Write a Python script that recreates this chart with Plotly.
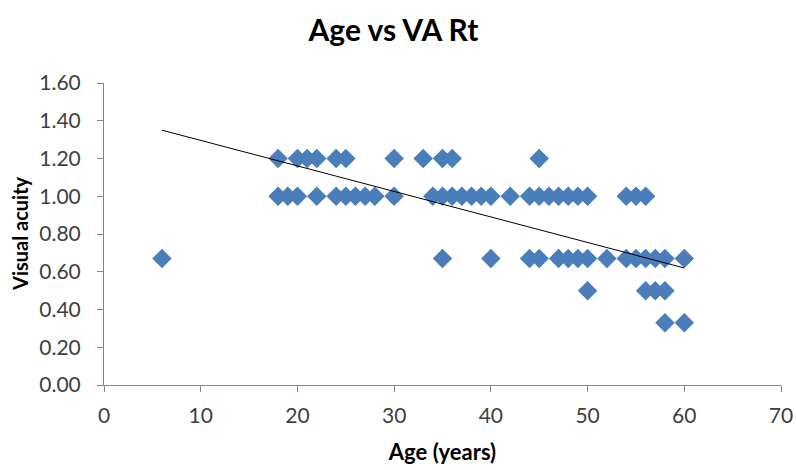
import plotly.graph_objects as go

# Age (years) and visual acuity (right eye), grouped by acuity level
age_va120 = [18, 20, 21, 22, 24, 25, 30, 33, 35, 36, 45]
age_va100 = [18, 19, 20, 22, 24, 25, 26, 27, 28, 30, 34, 35, 36, 37, 38, 39, 40,
             42, 44, 45, 46, 47, 48, 49, 50, 54, 55, 56]
age_va067 = [6, 35, 40, 44, 45, 47, 48, 49, 50, 52, 54, 55, 56, 57, 58, 60]
age_va050 = [50, 56, 57, 58]
age_va033 = [58, 60]

ages = age_va120 + age_va100 + age_va067 + age_va050 + age_va033
va = ([1.20] * len(age_va120) + [1.00] * len(age_va100) + [0.67] * len(age_va067)
      + [0.50] * len(age_va050) + [0.33] * len(age_va033))

# Linear trendline (ends at min and max age)
trend_age = [6, 60]
trend_va = [1.35, 0.62]

x_ticks = [0, 10, 20, 30, 40, 50, 60, 70]
y_ticks = [0.0, 0.2, 0.4, 0.6, 0.8, 1.0, 1.2, 1.4, 1.6]

font_family = "Lato, 'Open Sans', sans-serif"

W, H = 796, 470

fig = go.Figure()
fig.add_trace(go.Scatter(
    x=ages, y=va, mode="markers",
    marker=dict(symbol="diamond", size=15, color="#4A7EBB", line=dict(width=0)),
    showlegend=False, hoverinfo="x+y"))
fig.add_trace(go.Scatter(
    x=trend_age, y=trend_va, mode="lines", line=dict(color="black", width=1),
    showlegend=False, hoverinfo="skip"))

fig.update_layout(
    width=W, height=H,
    paper_bgcolor="white", plot_bgcolor="white",
    margin=dict(l=104, r=15, t=83, b=85),
    title=dict(text="<b>Age vs VA Rt</b>", x=393.5 / W, xanchor="center",
               y=1 - 30 / H, yanchor="middle",
               font=dict(family=font_family, size=30, color="black")),
    font=dict(family=font_family, size=21, color="#404040"),
    xaxis=dict(range=[0, 70], tickvals=x_ticks, showgrid=False, zeroline=False,
               showline=True, linecolor="#868686", linewidth=1,
               ticks="outside", ticklen=6, tickcolor="#868686",
               ticklabelstandoff=6, automargin=False,
               tickfont=dict(size=21, color="#404040"),
               title=dict(text="<b>Age (years)</b>", standoff=18,
                          font=dict(size=22, color="black"))),
    yaxis=dict(range=[0, 1.6], tickvals=y_ticks, tickformat=".2f",
               showgrid=False, zeroline=False,
               showline=True, linecolor="#868686", linewidth=1,
               ticks="outside", ticklen=6, tickcolor="#868686",
               ticklabelstandoff=12, automargin=False,
               tickfont=dict(size=21, color="#404040")),
    annotations=[dict(text="<b>Visual acuity</b>", textangle=-90,
                      xref="paper", yref="paper", x=-84 / 677, y=0.5,
                      xanchor="center", yanchor="middle", showarrow=False,
                      font=dict(family=font_family, size=20, color="black"))],
)

# remove the browser's default 8px body margin so the figure fills the window
fig.write_html("out.html", config={"displayModeBar": False},
               post_script="document.body.style.margin='0px';")
